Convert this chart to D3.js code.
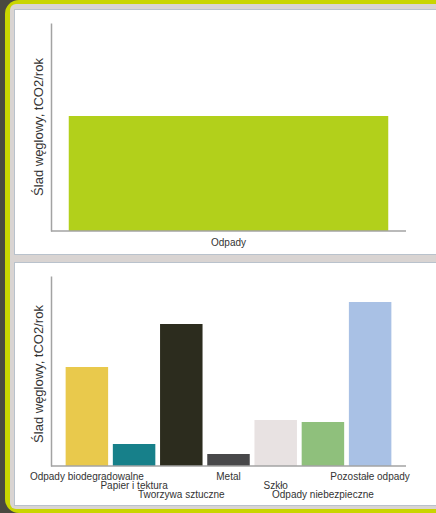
<!DOCTYPE html>
<html>
<head>
<meta charset="utf-8">
<script src="https://cdn.jsdelivr.net/npm/d3@7"></script>
<style>
  html, body { margin: 0; padding: 0; background: #4a4940; overflow: hidden; }
  svg { display: block; font-family: "Liberation Sans", Arial, sans-serif; }
</style>
</head>
<body>
<svg id="chart" width="436" height="513"></svg>
<script>
// ---- data ----
const topCategories = ["Odpady"];
const topValues = [115];
const topColors = ["#b2d01b"];

const categories = [
  "Odpady biodegradowalne",
  "Papier i tektura",
  "Tworzywa sztuczne",
  "Metal",
  "Szkło",
  "Odpady niebezpieczne",
  "Pozostałe odpady"
];
const values = [99, 22, 142, 12, 46, 44, 164];
const colors = ["#e9c94c", "#17808a", "#2c2c1e", "#48484a", "#e8e2e2", "#8fc07c", "#a9c1e5"];
const labelRows = [0, 1, 2, 0, 1, 2, 0];
const yTitle = "Ślad węglowy, tCO2/rok";

// ---- frame ----
const svg = d3.select("#chart");
svg.append("rect").attr("x", 5).attr("y", 0).attr("width", 460).attr("height", 513)
  .attr("rx", 14).attr("fill", "#c9d500");
svg.append("rect").attr("x", 10).attr("y", 4).attr("width", 440).attr("height", 505)
  .attr("rx", 6).attr("fill", "#d9d4d2");

function panel(y0, y1) {
  svg.append("rect").attr("x", 14.5).attr("y", y0 + 0.5).attr("width", 430).attr("height", y1 - y0)
    .attr("fill", "#ffffff").attr("stroke", "#b9c2cc").attr("stroke-width", 1);
}
panel(9, 254);
panel(262, 505);

// ---- chart drawer ----
function drawChart(cats, vals, cols, opt) {
  const g = svg.append("g");
  const x = d3.scaleBand().domain(cats).range([51, 406])
    .paddingInner(0.1).paddingOuter(opt.po);
  const y = d3.scaleLinear().domain([0, opt.yMax]).range([opt.base, opt.top]);

  g.selectAll("rect.bar").data(cats).join("rect")
    .attr("class", "bar")
    .attr("x", d => x(d))
    .attr("width", x.bandwidth())
    .attr("y", (d, i) => y(vals[i]))
    .attr("height", (d, i) => y(0) - y(vals[i]))
    .attr("fill", (d, i) => cols[i]);

  // axes (no ticks)
  const xAxis = g.append("g").attr("transform", `translate(0,${opt.base})`)
    .call(d3.axisBottom(x).tickSize(0).tickFormat(""));
  xAxis.select(".domain").attr("stroke", "#a3a3a3").attr("stroke-width", 1.5)
    .attr("d", `M${51},0H${406}`);
  const yAxis = g.append("g").attr("transform", `translate(51,0)`)
    .call(d3.axisLeft(y).tickSize(0).tickFormat("").ticks(0));
  yAxis.select(".domain").attr("stroke", "#a3a3a3").attr("stroke-width", 1.5);

  // category labels
  g.selectAll("text.cat").data(cats).join("text")
    .attr("class", "cat")
    .attr("x", d => x(d) + x.bandwidth() / 2)
    .attr("y", (d, i) => opt.base + opt.labelY + (opt.rows ? opt.rows[i] : 0) * 9)
    .attr("text-anchor", "middle")
    .attr("font-size", 10)
    .attr("fill", "#333")
    .text(d => d);

  // y title
  g.append("text")
    .attr("transform", `translate(43,${opt.titleY}) rotate(-90)`)
    .attr("text-anchor", "middle")
    .attr("font-size", 13)
    .attr("fill", "#333")
    .text(yTitle);
}

drawChart(topCategories, topValues, topColors,
  { po: 0.05, yMax: 208, base: 231, top: 23, labelY: 15, titleY: 127 });
drawChart(categories, values, colors,
  { po: 0.31, yMax: 190, base: 466, top: 276, labelY: 13.5, rows: labelRows, titleY: 374 });
</script>
</body>
</html>
